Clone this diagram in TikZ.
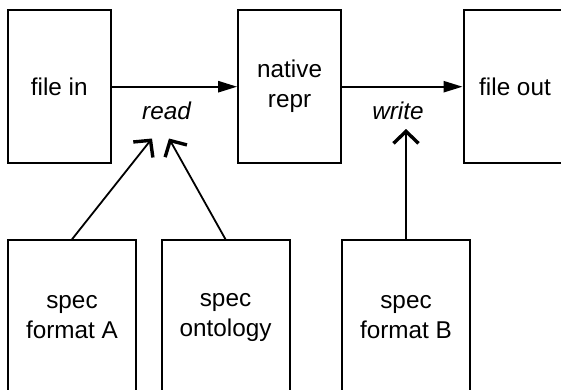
\documentclass[tikz,border=0pt]{standalone}
\usepackage{fontspec}
\setmainfont{Liberation Sans}
\usetikzlibrary{arrows.meta}
\tikzset{
    % Box styles
    filebox/.style={
        rectangle,
        draw=black,
        line width=1pt,
        minimum width=51.5pt,
        minimum height=76.7pt,
        inner sep=0pt,
        align=center,
        font=\fontsize{12.15}{15}\selectfont
    },
    specbox/.style={
        filebox,
        minimum width=64pt
    },
    opname/.style={
        font=\fontsize{12.15}{15}\selectfont\itshape
    },
    % Arrow styles
    arrow/.style={
        -{Triangle[length=9.5pt,width=5.6pt]},
        line width=1pt
    },
    usearrow/.style={
        -{Straight Barb[length=6pt,width=12.5pt,line width=1.7pt]},
        line width=0.9pt
    }
}

\begin{document}
\begin{tikzpicture}[x=0.5pt, y=-0.5pt]
    \clip (0,0) rectangle (561,390);

    % Top row
    \node[filebox] (filein) at (59.3,86.7) {file in};
    \node[filebox] (native) at (289.6,86.7) {native\\repr};
    \node[filebox] (fileout) at (515,86.7) {file out};

    \draw[arrow] (filein) -- (native);
    \draw[arrow] (native) -- (fileout);

    \node[opname] (read) at (166.5,111) {read};
    \node[opname] (write) at (398,111) {write};

    % Bottom row
    \node[specbox] (specA) at (72,317) {spec\\format A};
    \node[specbox] (speconto) at (225.5,317) {spec\\ontology};
    \node[specbox] (specB) at (406,317) {spec\\format B};

    \coordinate (readA) at (152,138.5);
    \coordinate (readB) at (169,138.5);
    \coordinate (writetip) at (406,129);

    \draw[usearrow] (specA.north) -- (readA);
    \draw[usearrow] (speconto.north) -- (readB);
    \draw[usearrow] (specB.north) -- (writetip);
\end{tikzpicture}
\end{document}
